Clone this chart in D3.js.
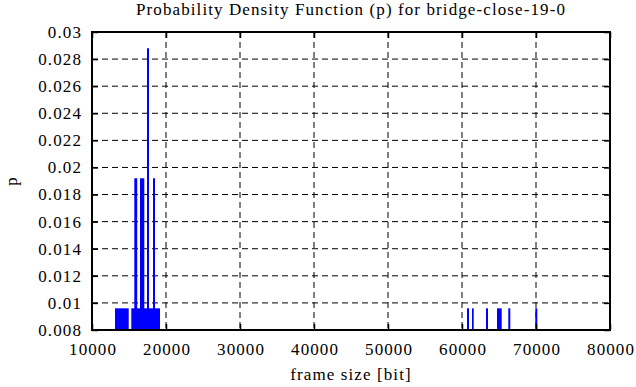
<!DOCTYPE html>
<html>
<head>
<meta charset="utf-8">
<script src="https://cdn.jsdelivr.net/npm/d3@7"></script>
<style>
	body { margin: 0; background: #fff; }
	svg text { font-family: "Liberation Serif", "Times New Roman", serif; fill: #000; letter-spacing: 1.1px; }
	.grid line { stroke: #000; stroke-width: 1; stroke-dasharray: 6,4; }
</style>
</head>
<body>
<svg class="pdf"></svg>
<script>
// histogram bins: start / end of each bin (frame size in bit) and probability
var binStart = [13108, 15311, 15716, 16486, 17432, 18243,
	60676, 61351, 63243, 64730, 66257, 69905];
var binEnd = [14960, 19189, 16108, 17068, 17703, 18514,
	60946, 61581, 63514, 65365, 66527, 70176];
var binP = [0.0096, 0.0096, 0.0192, 0.0192, 0.0288, 0.0192,
	0.0096, 0.0096, 0.0096, 0.0096, 0.0096, 0.0096];

var xTicks = [10000, 20000, 30000, 40000, 50000, 60000, 70000, 80000];
var yTicks = [0.008, 0.01, 0.012, 0.014, 0.016, 0.018, 0.02, 0.022, 0.024, 0.026, 0.028, 0.03];

function drawChart() {
	var margin = {top: 32, right: 26, bottom: 57, left: 92},
		width = 636 - margin.left - margin.right,
		height = 387 - margin.top - margin.bottom;

	var data = binStart.map(function(s, i) {
		return {start: s, end: binEnd[i], p: binP[i]};
	});

	var x = d3.scaleLinear()
		.domain([10000, 80000])
		.range([0, width]);

	var y = d3.scaleLinear()
		.domain([0.008, 0.03])
		.range([height, 0]);

	var svg = d3.select(".pdf")
		.attr("width", 636)
		.attr("height", 387);

	var chart = svg.append("g")
		.attr("transform", "translate(" + margin.left + "," + margin.top + ")");

	// dashed grid
	chart.append("g")
		.attr("class", "grid")
		.selectAll("line")
		.data(xTicks.slice(1, -1))
	  .enter().append("line")
		.attr("x1", function(d) { return x(d); })
		.attr("x2", function(d) { return x(d); })
		.attr("y1", 0)
		.attr("y2", height);

	chart.append("g")
		.attr("class", "grid")
		.selectAll("line")
		.data(yTicks.slice(1, -1))
	  .enter().append("line")
		.attr("x1", 0)
		.attr("x2", width)
		.attr("y1", function(d) { return y(d); })
		.attr("y2", function(d) { return y(d); });

	// bars
	chart.selectAll(".bar")
		.data(data)
	  .enter().append("rect")
		.attr("class", "bar")
		.attr("x", function(d) { return x(d.start); })
		.attr("width", function(d) { return x(d.end) - x(d.start); })
		.attr("y", function(d) { return y(d.p); })
		.attr("height", function(d) { return height - y(d.p); })
		.attr("fill", "#0000ff");

	// axes with inward ticks
	var fmtY = function(d) { return +d.toFixed(3) + ""; };

	chart.append("g")
		.attr("class", "x axis")
		.attr("transform", "translate(0," + height + ")")
		.call(d3.axisBottom(x).tickValues(xTicks).tickSizeInner(-6).tickSizeOuter(0).tickPadding(13).tickFormat(d3.format("d")));

	chart.append("g")
		.attr("class", "x axis")
		.call(d3.axisTop(x).tickValues(xTicks).tickSizeInner(-6).tickSizeOuter(0).tickFormat(""));

	chart.append("g")
		.attr("class", "y axis")
		.call(d3.axisLeft(y).tickValues(yTicks).tickSizeInner(-6).tickSizeOuter(0).tickPadding(10).tickFormat(fmtY));

	chart.append("g")
		.attr("class", "y axis")
		.attr("transform", "translate(" + width + ",0)")
		.call(d3.axisRight(y).tickValues(yTicks).tickSizeInner(-6).tickSizeOuter(0).tickFormat(""));

	chart.selectAll(".axis").attr("font-family", null);
	chart.selectAll(".axis .domain").remove();
	chart.selectAll(".axis line").attr("stroke", "#000").attr("stroke-width", 1.5);
	chart.selectAll(".axis text")
		.attr("font-size", "17px");
	chart.selectAll(".x.axis text").attr("dx", "0.55px");

	// frame
	chart.append("rect")
		.attr("width", width)
		.attr("height", height)
		.attr("fill", "none")
		.attr("stroke", "#000")
		.attr("stroke-width", 2);

	// labels
	svg.append("text")
		.attr("x", margin.left + width / 2)
		.attr("y", 15)
		.attr("text-anchor", "middle")
		.attr("font-size", "17px")
		.text("Probability Density Function (p) for bridge-close-19-0");

	svg.append("text")
		.attr("x", margin.left + width / 2)
		.attr("y", 380)
		.attr("text-anchor", "middle")
		.attr("font-size", "17px")
		.text("frame size [bit]");

	svg.append("text")
		.attr("transform", "translate(17," + (margin.top + height / 2) + ") rotate(-90)")
		.attr("text-anchor", "middle")
		.attr("font-size", "17px")
		.text("p");
}

drawChart();
</script>
</body>
</html>
